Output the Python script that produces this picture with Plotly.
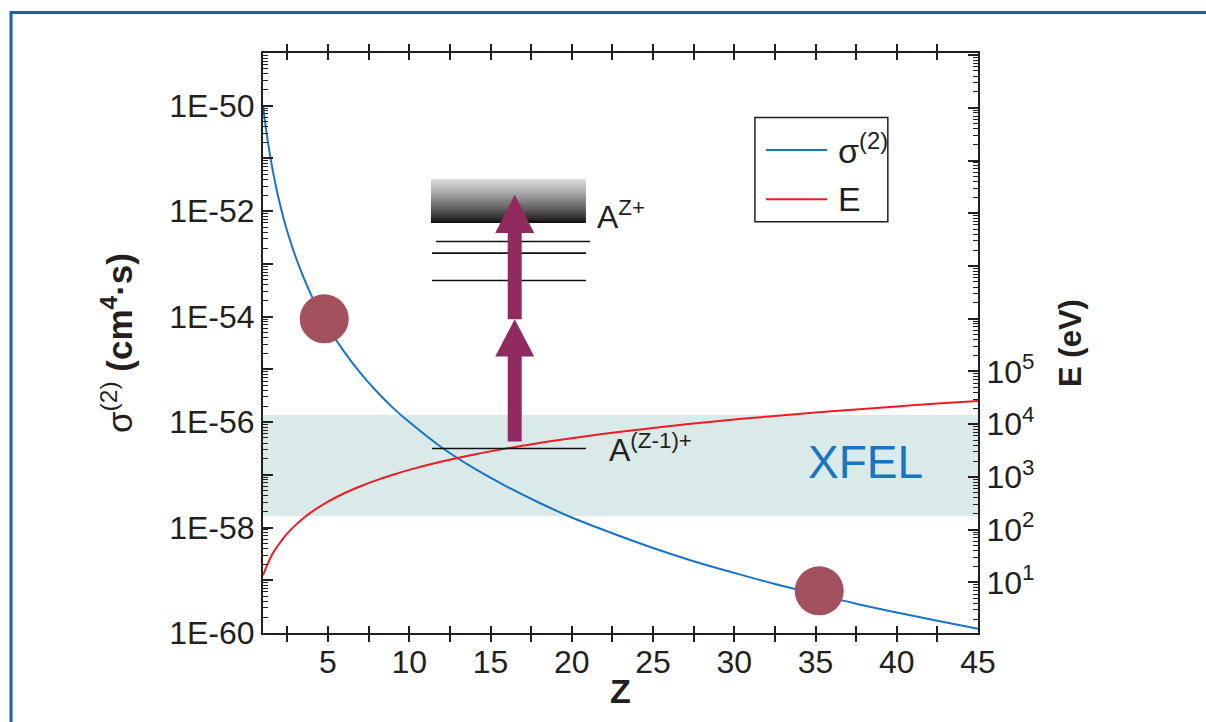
import math
import plotly.graph_objects as go

# ---------------- data ----------------
Z = [1, 1.25, 1.5, 1.75, 2, 2.5, 3, 3.5, 4, 5, 6, 7, 8, 9, 10, 12, 14, 16, 18, 20,
     22.5, 25, 27.5, 30, 32.5, 35, 37.5, 40, 42.5, 45]
sigma2 = [1.0e-50, 2.63e-51, 8.7e-52, 3.47e-52, 1.55e-52, 4.07e-53, 1.38e-53, 5.5e-54,
          2.45e-54, 6.46e-55, 2.14e-55, 8.5e-56, 3.8e-56, 1.86e-56, 1.0e-56, 3.3e-57,
          1.32e-57, 6.0e-58, 2.95e-58, 1.55e-58, 7.8e-59, 4.1e-59, 2.3e-59, 1.38e-59,
          8.5e-60, 5.5e-60, 3.6e-60, 2.45e-60, 1.7e-60, 1.2e-60]
energy_eV = [13.6, 21, 31, 42, 54, 85, 122, 167, 218, 340, 490, 666, 870, 1100, 1360,
             1960, 2670, 3480, 4400, 5440, 6880, 8500, 10300, 12240, 14360, 16660,
             19100, 21760, 24560, 27540]
marker_Z = [4.77, 35.23]
marker_sigma = [9.1e-55, 6.3e-60]
xfel_band_eV = [180, 15000]

x_tickvals = [2.5, 5, 7.5, 10, 12.5, 15, 17.5, 20, 22.5, 25, 27.5, 30, 32.5, 35, 37.5, 40, 42.5, 45]
x_ticktext = ["", "5", "", "10", "", "15", "", "20", "", "25", "", "30", "", "35", "", "40", "", "45"]
y_exponents = [-60, -59, -58, -57, -56, -55, -54, -53, -52, -51, -50, -49]
y_ticktext = ["1E-60", "", "1E-58", "", "1E-56", "", "1E-54", "", "1E-52", "", "1E-50", ""]
e_exponents = [0, 1, 2, 3, 4, 5, 6, 7, 8, 9, 10, 11]
e_ticktext = ["", "10<sup>1</sup>", "10<sup>2</sup>", "10<sup>3</sup>", "10<sup>4</sup>",
              "10<sup>5</sup>", "", "", "", "", "", ""]

# ---------------- styling ----------------
FONT = "Liberation Sans, Arial, Helvetica, sans-serif"
BLUE = "#1874C4"
RED = "#EC1C24"
DOT = "#A3515E"
ARROW = "#912A5E"
TXT = "#231F20"

X_RANGE = [1, 45]
Y_RANGE = [-60, -49]
Y2_RANGE = [0.04, 11.04]


def px_(z):
    return (z - X_RANGE[0]) / (X_RANGE[1] - X_RANGE[0])


def py_(lg):
    return (lg - Y_RANGE[0]) / (Y_RANGE[1] - Y_RANGE[0])


fig = go.Figure()

fig.add_trace(go.Scatter(x=Z, y=sigma2, mode="lines", name="σ<sup>(2)</sup>",
                         line=dict(color=BLUE, width=2, shape="spline"), yaxis="y"))
fig.add_trace(go.Scatter(x=Z, y=energy_eV, mode="lines", name="E",
                         line=dict(color=RED, width=2, shape="spline"), yaxis="y2"))
fig.add_trace(go.Scatter(x=marker_Z, y=marker_sigma, mode="markers", showlegend=False,
                         marker=dict(color=DOT, size=49, line=dict(width=0)), yaxis="y"))

shapes = []
# outer blue frame
shapes.append(dict(type="rect", xref="paper", yref="paper", x0=-0.3524, x1=2.0,
                   y0=-2.0, y1=1.0698, line=dict(color="#1B62AC", width=3),
                   fillcolor="rgba(0,0,0,0)", layer="below"))
# XFEL band
b0 = (math.log10(xfel_band_eV[0]) - Y2_RANGE[0]) / (Y2_RANGE[1] - Y2_RANGE[0])
b1 = (math.log10(xfel_band_eV[1]) - Y2_RANGE[0]) / (Y2_RANGE[1] - Y2_RANGE[0])
shapes.append(dict(type="rect", xref="paper", yref="paper", x0=0, x1=1, y0=b0, y1=b1,
                   fillcolor="#DAEAE8", line=dict(width=0), layer="below"))

# gradient continuum box (A^Z+), built from overlapping strips
bx0, bx1 = 11.34, 20.86
by0, by1 = -52.226, -51.40
n = 44
for i in range(n):
    t = (i + 0.5) / n  # 0 bottom -> 1 top
    g = int(round(8 + 212 * (t ** 0.8)))
    c = "rgb(%d,%d,%d)" % (g, g, g)
    ya = by0 + (by1 - by0) * i / n
    yb = by0 + (by1 - by0) * (i + 1) / n if i == n - 1 else by0 + (by1 - by0) * (i + 2.2) / n
    shapes.append(dict(type="rect", xref="paper", yref="paper", x0=px_(bx0), x1=px_(bx1),
                       y0=py_(ya), y1=py_(yb), fillcolor=c, line=dict(width=0)))

# bound levels
levels = [(11.65, 21.12, -52.575), (11.4, 20.88, -52.795), (11.4, 20.88, -53.315),
          (11.4, 20.88, -56.50)]
for (x0, x1, lg) in levels:
    shapes.append(dict(type="line", xref="paper", yref="paper", x0=px_(x0), x1=px_(x1),
                       y0=py_(lg), y1=py_(lg), line=dict(color="#111111", width=1.6)))


# arrows
def arrow_path(xc, y_bot, y_base, y_tip, half_shaft=0.43, half_head=1.2):
    pts = [(xc - half_shaft, y_bot), (xc + half_shaft, y_bot), (xc + half_shaft, y_base),
           (xc + half_head, y_base), (xc, y_tip), (xc - half_head, y_base),
           (xc - half_shaft, y_base)]
    return "M " + " L ".join("%.5f,%.5f" % (px_(a), py_(b)) for a, b in pts) + " Z"


for (yb, ybase, ytip) in [(-56.37, -54.757, -54.05), (-54.05, -52.415, -51.69)]:
    shapes.append(dict(type="path", xref="paper", yref="paper",
                       path=arrow_path(16.49, yb, ybase, ytip),
                       fillcolor=ARROW, line=dict(width=0)))

# legend box
shapes.append(dict(type="rect", xref="paper", yref="paper", x0=0.688, x1=0.8739,
                   y0=0.709, y1=0.889, line=dict(color="#231F20", width=1.5),
                   fillcolor="white"))
shapes.append(dict(type="line", xref="paper", yref="paper", x0=0.7035, x1=0.7892,
                   y0=0.8328, y1=0.8328, line=dict(color=BLUE, width=2)))
shapes.append(dict(type="line", xref="paper", yref="paper", x0=0.7035, x1=0.7892,
                   y0=0.7478, y1=0.7478, line=dict(color=RED, width=2)))

annotations = [
    dict(xref="paper", yref="paper", x=0.8010, y=0.8350, xanchor="left", yanchor="middle",
         text="σ<sup>(2)</sup>", showarrow=False, font=dict(family=FONT, size=34, color=TXT)),
    dict(xref="paper", yref="paper", x=0.8010, y=0.7478, xanchor="left", yanchor="middle",
         text="E", showarrow=False, font=dict(family=FONT, size=34, color=TXT)),
    dict(xref="x", yref="paper", x=21.45, y=py_(-52.08), xanchor="left", yanchor="middle",
         text="A<sup>Z+</sup>", showarrow=False, font=dict(family=FONT, size=32, color=TXT)),
    dict(xref="x", yref="paper", x=22.15, y=py_(-56.50), xanchor="left", yanchor="middle",
         text="A<sup>(Z-1)+</sup>", showarrow=False, font=dict(family=FONT, size=32, color=TXT)),
    dict(xref="x", yref="y2", x=38.05, y=3.28, xanchor="center", yanchor="middle",
         text="XFEL", showarrow=False, font=dict(family=FONT, size=46, color="#1C75BC")),
]

fig.update_layout(
    width=1206, height=722, autosize=False,
    margin=dict(l=263, r=228, t=53, b=89, pad=0),
    paper_bgcolor="white", plot_bgcolor="white",
    showlegend=False,
    font=dict(family=FONT, color=TXT, size=32),
    shapes=shapes, annotations=annotations,
    xaxis=dict(range=X_RANGE, tickmode="array", tickvals=x_tickvals, ticktext=x_ticktext,
               ticks="inside", ticklen=7, tickwidth=1.5, tickcolor=TXT, mirror="allticks",
               showline=True, linewidth=2, linecolor=TXT, showgrid=False, zeroline=False,
               tickfont=dict(family=FONT, size=32, color=TXT),
               title=dict(text="<b>Z</b>", font=dict(family=FONT, size=34, color=TXT), standoff=0)),
    yaxis=dict(type="log", range=Y_RANGE, tickmode="array",
               tickvals=[10.0 ** e for e in y_exponents], ticktext=y_ticktext,
               ticks="inside", ticklen=10, tickwidth=1.5, tickcolor=TXT,
               minor=dict(ticks="inside", ticklen=5, tickwidth=1, tickcolor=TXT, tickmode="array",
                          tickvals=[k * 10.0 ** e for e in y_exponents[:-1] for k in range(2, 10)]),
               showline=True, linewidth=2, linecolor=TXT, mirror=True, showgrid=False,
               zeroline=False, tickfont=dict(family=FONT, size=32, color=TXT),
               title=dict(text="σ<sup>(2)</sup> <b>(cm<sup>4</sup>·s)</b>",
                          font=dict(family=FONT, size=35, color=TXT), standoff=26)),
    yaxis2=dict(type="log", range=Y2_RANGE, overlaying="y", side="right", tickmode="array",
                tickvals=[10.0 ** e for e in e_exponents], ticktext=e_ticktext,
                ticks="inside", ticklen=10, tickwidth=1.5, tickcolor=TXT,
                minor=dict(ticks="inside", ticklen=5, tickwidth=1, tickcolor=TXT, tickmode="array",
                           tickvals=[k * 10.0 ** e for e in e_exponents[:-1] for k in range(2, 10)]),
                showline=True, linewidth=2, linecolor=TXT, showgrid=False, zeroline=False,
                tickfont=dict(family=FONT, size=32, color=TXT),
                title=dict(text="<b>E (eV)</b>", font=dict(family=FONT, size=31, color=TXT),
                           standoff=26)),
)

fig.write_html("out.html")
